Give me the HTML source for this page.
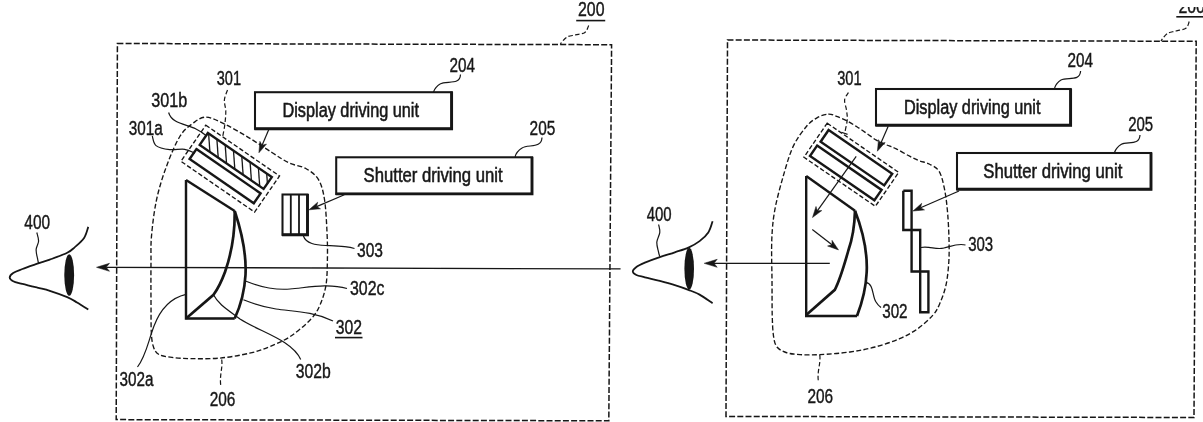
<!DOCTYPE html>
<html><head><meta charset="utf-8"><title>Figure</title>
<style>
html,body{margin:0;padding:0;background:#fff;}
body{width:1203px;height:422px;overflow:hidden;}
svg{display:block;}
text{font-family:"Liberation Sans",sans-serif;fill:#161616;stroke:#161616;stroke-width:0.4px;}
</style></head><body>
<svg width="1203" height="422" viewBox="0 0 1203 422">
<defs><filter id="soft" x="0" y="0" width="1203" height="422" filterUnits="userSpaceOnUse"><feGaussianBlur stdDeviation="0.33"/></filter></defs>
<rect width="1203" height="422" fill="#fff"/>
<g filter="url(#soft)">
<path d="M117.4 43.5L611.6 44.7L608.8 420.8L116.2 419.6Z" fill="none" stroke="#161616" stroke-width="1.5" stroke-dasharray="6 2.2" />
<text x="578" y="16.2" font-size="19.5" textLength="26.5" lengthAdjust="spacingAndGlyphs" >200</text>
<path d="M576.2 20.6H605.2" fill="none" stroke="#161616" stroke-width="1.6" />
<path d="M588.7 25.5C588.1 26.6 587.1 30.8 584.9 32.4C582.7 34.0 578.6 34.2 575.7 34.9C572.8 35.6 569.6 35.7 567.4 36.8C565.2 37.9 563.6 40.0 562.4 41.3C561.2 42.6 560.6 44.0 560.3 44.6" fill="none" stroke="#161616" stroke-width="1.2" stroke-dasharray="4.5 2.3" />
<rect x="255.0" y="92.2" width="196.6" height="36.6" fill="none" stroke="#161616" stroke-width="2.05"/>
<path d="M254.4 128.8H451.6V91.60000000000001" fill="none" stroke="#161616" stroke-width="2.9" />
<text x="282.5" y="117.3" font-size="20" textLength="136.5" lengthAdjust="spacingAndGlyphs" style="stroke-width:0.55px">Display driving unit</text>
<text x="449.5" y="71.6" font-size="19.5" textLength="25.5" lengthAdjust="spacingAndGlyphs" >204</text>
<path d="M460.5 74.5C460 86 446 80 440 84C436 86.5 434.5 89 433.5 92" fill="none" stroke="#161616" stroke-width="1.2" />
<rect x="336.2" y="157.3" width="195.8" height="36.6" fill="none" stroke="#161616" stroke-width="2.05"/>
<path d="M335.59999999999997 193.9H532.0V156.70000000000002" fill="none" stroke="#161616" stroke-width="2.9" />
<text x="363.6" y="182.4" font-size="20" textLength="139" lengthAdjust="spacingAndGlyphs" style="stroke-width:0.55px">Shutter driving unit</text>
<text x="529.6" y="135" font-size="19.5" textLength="25.7" lengthAdjust="spacingAndGlyphs" >205</text>
<path d="M542 137.5C541.5 149 528 144 522 148C518 150.5 516 153 515 157" fill="none" stroke="#161616" stroke-width="1.2" />
<path d="M268.8 129.5L262.1 145.2" fill="none" stroke="#161616" stroke-width="1.2" />
<path d="M258.9 152.8L259.9 141.3L262.1 145.2L266.5 144.1Z" fill="#161616" stroke="#161616" stroke-width="0.5"/>
<path d="M344.4 194.8L316.6 206.6" fill="none" stroke="#161616" stroke-width="1.2" />
<path d="M309.0 209.8L317.7 202.2L316.6 206.6L320.5 208.8Z" fill="#161616" stroke="#161616" stroke-width="0.5"/>
<text x="216.7" y="85" font-size="19.5" textLength="24.3" lengthAdjust="spacingAndGlyphs" >301</text>
<text x="151.2" y="106.8" font-size="19.5" textLength="36" lengthAdjust="spacingAndGlyphs" >301b</text>
<text x="128.7" y="135.3" font-size="19.5" textLength="34" lengthAdjust="spacingAndGlyphs" >301a</text>
<path d="M227.5 90.0C227.0 91.7 224.7 96.4 224.4 100.0C224.1 103.6 225.8 107.5 225.8 111.8C225.8 116.1 225.2 121.8 224.6 126.1C224.0 130.4 222.8 135.6 222.5 137.5" fill="none" stroke="#161616" stroke-width="1.2" stroke-dasharray="4.5 2.5" />
<path d="M168.6 112.5C172 124 186 124 196 129C200 131 203 133 206 135.5" fill="none" stroke="#161616" stroke-width="1.2" />
<path d="M152.3 136.0C152.9 137.6 153.1 143.3 156.0 145.6C158.9 147.9 164.9 149.0 169.7 149.6C174.5 150.2 180.4 148.7 184.6 149.3C188.8 149.9 193.3 152.5 195.0 153.2" fill="none" stroke="#161616" stroke-width="1.2" />
<path d="M207.9 133.0L271.8 177.1L263.6 188.9L199.7 144.9Z" fill="none" stroke="#161616" stroke-width="2.4" />
<path d="M208.6 133.5L209.9 151.9" fill="none" stroke="#161616" stroke-width="1.3" />
<path d="M216.9 139.2L218.2 157.6" fill="none" stroke="#161616" stroke-width="1.3" />
<path d="M225.2 144.9L226.5 163.3" fill="none" stroke="#161616" stroke-width="1.3" />
<path d="M233.5 150.7L234.8 169.0" fill="none" stroke="#161616" stroke-width="1.3" />
<path d="M241.8 156.4L243.1 174.8" fill="none" stroke="#161616" stroke-width="1.3" />
<path d="M250.1 162.1L251.4 180.5" fill="none" stroke="#161616" stroke-width="1.3" />
<path d="M258.4 167.8L259.7 186.2" fill="none" stroke="#161616" stroke-width="1.3" />
<path d="M266.7 173.6L267.4 183.4" fill="none" stroke="#161616" stroke-width="1.3" />
<path d="M196.4 149.1L260.6 193.4L253.8 203.3L189.6 159.0Z" fill="none" stroke="#161616" stroke-width="2.4" />
<path d="M205.8 125.2L279.5 176.0L254.6 212.1L180.9 161.3Z" fill="none" stroke="#161616" stroke-width="1.35" stroke-dasharray="4.5 2.3" />
<rect x="282.5" y="194.5" width="25.0" height="40.3" fill="none" stroke="#161616" stroke-width="2.05"/>
<path d="M281.9 234.8H307.5V193.9" fill="none" stroke="#161616" stroke-width="2.9" />
<path d="M290.8 194.5V234.8M299 194.5V234.8" fill="none" stroke="#161616" stroke-width="1.8" />
<text x="357" y="257" font-size="19.5" textLength="26" lengthAdjust="spacingAndGlyphs" >303</text>
<path d="M303.2 235.5C306 244 316 245 326 245.5C338 246 346 246 354.5 248.5" fill="none" stroke="#161616" stroke-width="1.2" />
<path d="M186 180V318.5H234.7" fill="none" stroke="#161616" stroke-width="2.4" />
<path d="M186 180L234.7 211" fill="none" stroke="#161616" stroke-width="2.4" />
<path d="M234.7 211C243 236 246.5 256 245.5 275C244.5 292 240 307 234.7 318.5" fill="none" stroke="#161616" stroke-width="2.7" />
<path d="M234.7 211C235 235 231 255 225 272C221 283 217 290 213.5 294.8L186 318.5" fill="none" stroke="#161616" stroke-width="2.7" />
<path d="M620.6 268.9L106.2 267.3" fill="none" stroke="#161616" stroke-width="1.3" />
<path d="M96.5 267.3L109.5 263.3L106.2 267.3L109.5 271.3Z" fill="#161616" stroke="#161616" stroke-width="0.5"/>
<text x="350" y="295.3" font-size="19.5" textLength="34.5" lengthAdjust="spacingAndGlyphs" >302c</text>
<path d="M245.4 281C258 286 272 290.5 290 289C308 287.5 328 283 347 288.5" fill="none" stroke="#161616" stroke-width="1.2" />
<text x="335.7" y="333.8" font-size="19.5" textLength="26.3" lengthAdjust="spacingAndGlyphs" >302</text>
<path d="M335 337.6H362.5" fill="none" stroke="#161616" stroke-width="1.6" />
<path d="M243.4 299.8C254 304 264 307 276 309C292 311.5 312 311 333 321" fill="none" stroke="#161616" stroke-width="1.2" />
<text x="295.8" y="378" font-size="19.5" textLength="35" lengthAdjust="spacingAndGlyphs" >302b</text>
<path d="M213.5 294.8C218 304 228 310 240 319C260 332 292 340 300.7 359.5" fill="none" stroke="#161616" stroke-width="1.2" />
<text x="119.5" y="385.6" font-size="19.5" textLength="34" lengthAdjust="spacingAndGlyphs" >302a</text>
<path d="M186 294.3C170 298 160 310 154 326C148 342 146 356 137.5 367" fill="none" stroke="#161616" stroke-width="1.2" />
<text x="209.7" y="406" font-size="19.5" textLength="25.7" lengthAdjust="spacingAndGlyphs" >206</text>
<path d="M221.7 359.5C223 368 219 376 221 387" fill="none" stroke="#161616" stroke-width="1.2" stroke-dasharray="4.5 2.5" />
<path d="M206.3 117.2C211.8 117.5 219.0 121.4 226.2 124.9C233.4 128.4 241.8 133.4 249.5 138.1C257.2 142.8 266.1 148.8 272.7 153.0C279.3 157.2 283.7 160.4 289.2 163.0C294.7 165.6 300.9 165.7 305.8 168.5C310.7 171.3 315.4 174.4 318.5 179.6C321.6 184.8 323.1 190.8 324.5 199.5C325.9 208.2 326.5 221.9 327.0 232.0C327.5 242.1 327.6 251.2 327.4 260.0C327.2 268.8 327.2 277.5 326.0 285.0C324.8 292.5 322.5 299.3 320.0 305.0C317.5 310.7 315.8 313.8 311.0 319.0C306.2 324.2 297.8 331.4 291.0 336.0C284.2 340.6 276.9 343.6 270.0 346.5C263.1 349.4 258.0 351.3 249.6 353.2C241.2 355.1 229.6 357.2 219.7 358.1C209.8 359.0 197.9 358.7 190.0 358.6C182.1 358.5 177.2 358.1 172.0 357.4C166.8 356.7 162.1 356.2 159.0 354.5C155.9 352.8 154.8 350.8 153.5 347.0C152.2 343.2 151.7 339.8 151.3 332.0C150.9 324.2 151.1 311.7 151.0 300.0C150.9 288.3 150.9 272.7 151.0 262.0C151.1 251.3 150.6 246.4 151.5 236.0C152.4 225.6 154.1 211.1 156.6 199.5C159.1 187.9 162.6 176.8 166.5 166.3C170.4 155.8 175.4 143.7 179.8 136.5C184.2 129.3 188.6 126.4 193.0 123.2C197.4 120.0 200.8 116.9 206.3 117.2Z" fill="none" stroke="#161616" stroke-width="1.35" stroke-dasharray="5 2.4" />
<path d="M88.3 226.9C87.6 228.7 86.4 234.5 84.1 237.9C81.8 241.3 77.4 244.8 74.6 247.3C71.8 249.8 71.3 250.8 67.2 252.8C63.1 254.9 54.8 257.8 49.8 259.6C44.8 261.4 41.9 262.1 37.3 263.7C32.7 265.3 26.4 267.4 22.4 269.0C18.4 270.6 15.3 271.6 13.2 273.0C11.1 274.4 9.7 276.1 9.7 277.5C9.7 278.9 11.1 280.1 13.2 281.2C15.3 282.3 18.4 282.8 22.4 283.9C26.4 285.0 32.7 286.5 37.3 287.6C41.9 288.8 44.8 289.2 49.8 290.8C54.8 292.4 62.7 295.2 67.2 297.1C71.8 299.1 73.6 300.4 77.1 302.5C80.6 304.6 86.4 308.3 88.3 309.5" fill="none" stroke="#161616" stroke-width="1.8" />
<ellipse cx="69.2" cy="275" rx="4.9" ry="20.8" fill="#161616"/>
<text x="24.3" y="229" font-size="19.5" textLength="25.8" lengthAdjust="spacingAndGlyphs" >400</text>
<path d="M36.8 232.5C37.1 233.9 38.7 238.2 38.6 241.1C38.5 244.0 36.2 246.7 36.1 249.8C36.0 252.9 37.4 257.5 37.8 259.8C38.2 262.1 38.5 262.9 38.6 263.5" fill="none" stroke="#161616" stroke-width="1.2" />
<path d="M727.5 40L1196.2 41.3L1194 417.5L726 416.4Z" fill="none" stroke="#161616" stroke-width="1.5" stroke-dasharray="6 2.2" />
<clipPath id="c2"><rect x="1170" y="7" width="40" height="20"/></clipPath>
<g clip-path="url(#c2)">
<text x="1178.4" y="13.4" font-size="19.5" textLength="26.5" lengthAdjust="spacingAndGlyphs" >200</text>
</g>
<path d="M1176.3 16.8H1203" fill="none" stroke="#161616" stroke-width="1.6" />
<path d="M1189.2 21.6C1188.7 22.7 1188.1 26.6 1185.9 28.2C1183.7 29.8 1179.0 30.1 1176.0 31.0C1173.0 31.9 1169.8 32.1 1167.6 33.4C1165.4 34.6 1163.8 37.2 1162.7 38.5C1161.6 39.8 1161.3 40.8 1161.0 41.2" fill="none" stroke="#161616" stroke-width="1.2" stroke-dasharray="4.5 2.3" />
<rect x="876.0" y="89.0" width="194.6" height="36.2" fill="none" stroke="#161616" stroke-width="2.05"/>
<path d="M875.4 125.2H1070.6V88.4" fill="none" stroke="#161616" stroke-width="2.9" />
<text x="904" y="114.2" font-size="20" textLength="136.5" lengthAdjust="spacingAndGlyphs" style="stroke-width:0.55px">Display driving unit</text>
<text x="1067.6" y="66.6" font-size="19.5" textLength="25.5" lengthAdjust="spacingAndGlyphs" >204</text>
<path d="M1080.6 71C1080 82 1067 76.5 1061 80C1057 82.5 1055.5 85 1054.6 88" fill="none" stroke="#161616" stroke-width="1.2" />
<rect x="957.0" y="153.0" width="194.0" height="36.2" fill="none" stroke="#161616" stroke-width="2.05"/>
<path d="M956.4 189.2H1151.0V152.4" fill="none" stroke="#161616" stroke-width="2.9" />
<text x="983.3" y="177.8" font-size="20" textLength="139" lengthAdjust="spacingAndGlyphs" style="stroke-width:0.55px">Shutter driving unit</text>
<text x="1128.2" y="130.7" font-size="19.5" textLength="25" lengthAdjust="spacingAndGlyphs" >205</text>
<path d="M1140 135C1139.5 146 1127 141 1121 144.5C1117 147 1115.5 149.5 1114.5 152.5" fill="none" stroke="#161616" stroke-width="1.2" />
<path d="M888.2 126.2L880.7 143.6" fill="none" stroke="#161616" stroke-width="1.2" />
<path d="M877.4 151.2L878.5 139.7L880.7 143.6L885.1 142.5Z" fill="#161616" stroke="#161616" stroke-width="0.5"/>
<path d="M959.0 191.0L920.6 207.7" fill="none" stroke="#161616" stroke-width="1.2" />
<path d="M913.0 211.0L921.7 203.3L920.6 207.7L924.5 209.9Z" fill="#161616" stroke="#161616" stroke-width="0.5"/>
<text x="837.2" y="84.8" font-size="19.5" textLength="24.4" lengthAdjust="spacingAndGlyphs" >301</text>
<path d="M848.4 92.5C847.8 93.8 844.9 97.1 844.6 100.0C844.3 102.9 846.1 106.7 846.5 110.0C846.9 113.3 847.5 116.3 847.2 120.0C846.9 123.7 845.3 130.2 844.9 132.3" fill="none" stroke="#161616" stroke-width="1.2" stroke-dasharray="4.5 2.5" />
<path d="M841.4 132.2L847.6 134.4" fill="none" stroke="#161616" stroke-width="1.2" />
<path d="M828.6 130.0L892.2 173.7L884.2 185.4L820.6 141.7Z" fill="none" stroke="#161616" stroke-width="2.4" />
<path d="M817.1 145.6L881.6 189.9L874.4 200.3L810.0 156.0Z" fill="none" stroke="#161616" stroke-width="2.4" />
<path d="M827.2 123.2L898.7 172.4L875.4 206.3L803.9 157.2Z" fill="none" stroke="#161616" stroke-width="1.35" stroke-dasharray="4.5 2.3" />
<path d="M856.2 156.4L817.3 210.8" fill="none" stroke="#161616" stroke-width="1.2" />
<path d="M812.5 217.5L816.0 206.5L817.3 210.8L821.8 210.6Z" fill="#161616" stroke="#161616" stroke-width="0.5"/>
<path d="M812.3 229.5L832.0 244.8" fill="none" stroke="#161616" stroke-width="1.2" />
<path d="M838.5 249.9L827.6 246.0L832.0 244.8L832.0 240.3Z" fill="#161616" stroke="#161616" stroke-width="0.5"/>
<path d="M829.8 263.3L714.0 263.3" fill="none" stroke="#161616" stroke-width="1.3" />
<path d="M704.2 263.3L717.2 259.3L714.0 263.3L717.2 267.3Z" fill="#161616" stroke="#161616" stroke-width="0.5"/>
<path d="M806.2 176V316H857" fill="none" stroke="#161616" stroke-width="2.4" />
<path d="M806.2 176L855 210.8" fill="none" stroke="#161616" stroke-width="2.4" />
<path d="M855 210.8C864 234 867.5 254 866.7 272C866 288 862 303 857 316" fill="none" stroke="#161616" stroke-width="2.7" />
<path d="M855 210.8C854.5 228 852 240 848.5 250C844 266 840 280 834.8 289.8L806.2 315" fill="none" stroke="#161616" stroke-width="2.7" />
<text x="882.2" y="317.5" font-size="19.5" textLength="25.4" lengthAdjust="spacingAndGlyphs" >302</text>
<path d="M866 282.3C874 284 872 296 876 302C877.5 304.5 879 306 881 307.5" fill="none" stroke="#161616" stroke-width="1.2" />
<path d="M903.3 190.8H911.6V230M903.3 190.8V230H911.6" fill="none" stroke="#161616" stroke-width="2.4" />
<path d="M911.6 230H920.2V271.5M911.6 230V271.5H920.2" fill="none" stroke="#161616" stroke-width="2.4" />
<path d="M920.2 271.5H928.4V312.2H920.2Z" fill="none" stroke="#161616" stroke-width="2.4" />
<text x="968.2" y="251.1" font-size="19.5" textLength="25" lengthAdjust="spacingAndGlyphs" >303</text>
<path d="M921 247.5C930 246 936 250 944 248C952 246 958 243 965.5 245" fill="none" stroke="#161616" stroke-width="1.2" />
<path d="M828.3 114.1C831.6 113.9 833.6 115.3 836.6 116.4C839.6 117.5 843.2 119.0 846.5 120.7C849.8 122.4 853.2 124.4 856.5 126.5C859.8 128.6 863.1 130.9 866.4 133.2C869.7 135.5 873.1 138.3 876.4 140.2C879.7 142.1 883.0 143.4 886.3 144.8C889.6 146.2 892.4 147.0 896.3 148.9C900.2 150.8 905.7 154.2 909.6 156.2C913.5 158.2 916.2 159.5 919.5 160.8C922.8 162.1 925.9 162.2 929.2 164.0C932.5 165.8 936.5 167.0 939.1 171.3C941.7 175.6 943.2 182.7 944.6 189.6C946.0 196.5 946.9 204.5 947.6 212.8C948.3 221.1 948.8 231.1 949.0 239.3C949.2 247.5 949.3 254.4 948.8 262.0C948.3 269.6 947.5 278.2 946.0 285.0C944.5 291.8 942.2 298.0 940.0 303.0C937.8 308.0 936.7 310.8 933.0 315.0C929.3 319.2 923.6 324.6 918.0 328.5C912.4 332.4 906.8 335.6 899.6 338.7C892.4 341.8 883.3 344.8 875.0 347.0C866.7 349.2 859.2 350.7 850.0 352.0C840.8 353.3 828.1 354.2 819.8 354.6C811.5 355.0 805.6 355.0 800.0 354.6C794.4 354.2 789.8 353.8 786.0 352.5C782.2 351.2 779.1 349.8 777.0 347.0C774.9 344.2 774.3 341.3 773.5 336.0C772.7 330.7 772.5 324.3 772.2 315.0C772.0 305.7 772.1 292.6 772.0 280.0C771.9 267.4 771.3 251.1 771.8 239.3C772.3 227.6 773.0 220.0 774.9 209.5C776.8 199.0 780.2 186.8 783.2 176.3C786.2 165.8 789.3 154.7 793.2 146.4C797.1 138.1 802.4 131.3 806.4 126.5C810.4 121.7 813.4 119.9 817.0 117.8C820.6 115.7 825.0 114.3 828.3 114.1Z" fill="none" stroke="#161616" stroke-width="1.35" stroke-dasharray="5 2.4" />
<text x="807.4" y="402.8" font-size="19.5" textLength="25.7" lengthAdjust="spacingAndGlyphs" >206</text>
<path d="M819.8 355C821 364 816.5 372 818.6 382.5" fill="none" stroke="#161616" stroke-width="1.2" stroke-dasharray="4.5 2.5" />
<path d="M712.6 221.2C711.9 223.1 710.5 229.1 708.3 232.4C706.1 235.7 702.9 238.6 699.6 241.1C696.3 243.6 692.5 245.7 688.4 247.6C684.3 249.5 679.6 250.7 674.8 252.3C670.0 253.9 664.8 255.5 659.8 257.2C654.8 258.9 648.8 261.1 644.9 262.7C641.0 264.3 638.4 265.5 636.4 267.0C634.4 268.5 632.8 270.2 632.8 271.5C632.8 272.8 634.4 274.0 636.4 275.0C638.4 276.0 641.0 276.3 644.9 277.3C648.8 278.3 654.8 279.6 659.8 280.9C664.8 282.2 670.0 283.6 674.8 285.1C679.6 286.6 684.3 288.2 688.4 289.8C692.5 291.4 695.6 292.4 699.6 294.6C703.6 296.9 710.4 301.9 712.6 303.3" fill="none" stroke="#161616" stroke-width="1.8" />
<ellipse cx="689.2" cy="268.7" rx="4.8" ry="20.9" fill="#161616"/>
<text x="646.7" y="221.2" font-size="19.5" textLength="25" lengthAdjust="spacingAndGlyphs" >400</text>
<path d="M658.6 224.5C658.8 225.8 660.1 229.4 659.8 232.4C659.5 235.4 657.0 239.0 656.8 242.3C656.6 245.6 658.1 249.9 658.6 252.3C659.1 254.7 659.6 256.0 659.8 256.7" fill="none" stroke="#161616" stroke-width="1.2" />
</g>
</svg>
</body></html>
